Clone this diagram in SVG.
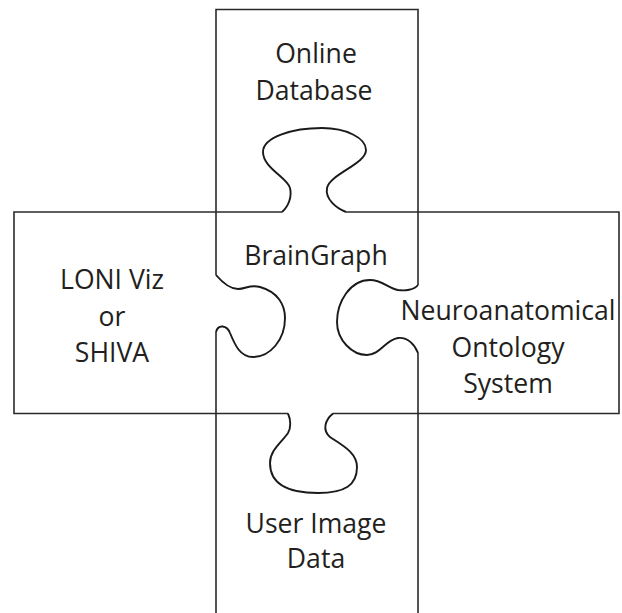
<svg xmlns="http://www.w3.org/2000/svg" width="622" height="613" viewBox="0 0 622 613">
  <style>
    .edge { fill: none; stroke: #2a2a2a; stroke-width: 1.6; }
    .tab { fill: none; stroke: #1a1a1a; stroke-width: 1.9; stroke-linejoin: round; }
    .label { font-family: "Open Sans", "Liberation Sans", sans-serif; font-size: 26.6px; fill: #231f20; text-anchor: middle; }
  </style>
  <rect width="622" height="613" fill="#ffffff"/>
  <g id="connectors"></g>
  <g id="online-database">
    <path class="edge" d="M216,212 V9.5 H418 V212"/>
    <text class="label" x="316" y="63">Online</text>
    <text class="label" x="314" y="100">Database</text>
  </g>
  <g id="loni-viz-shiva">
    <path class="edge" d="M216,212 H14 V413.5 H216"/>
    <text class="label" x="112" y="289">LONI Viz</text>
    <text class="label" x="112" y="326">or</text>
    <text class="label" x="112" y="362">SHIVA</text>
  </g>
  <g id="neuroanatomical-ontology-system">
    <path class="edge" d="M418,212 H619 V413.5 H418"/>
    <text class="label" x="508" y="320">Neuroanatomical</text>
    <text class="label" x="508" y="357">Ontology</text>
    <text class="label" x="508" y="393">System</text>
  </g>
  <g id="user-image-data">
    <path class="edge" d="M216,413.5 V613 M418,413.5 V613"/>
    <text class="label" x="316" y="533">User Image</text>
    <text class="label" x="316" y="568">Data</text>
  </g>
  <g id="braingraph">
    <path class="edge" d="M216,212 H282 M346,212 H418 V285 M418,353 V413.5 H333 M288,413.5 H216 V332 M216,275 V212"/>
    <path class="tab" d="M282,212 C289,206 292,196 290,188 C288,178 263,168 263,152 C263,137 293,128 322,128 C346,128 366,138 366,150 C366,164 330,174 327,188 C325,199 336,208 346,212"/>
    <path class="tab" d="M418,285 C414,290 405,291 398,290 C388,288 382,280 370,280 C350,280 337,302 337,322 C337,340 352,355 367,355 C380,355 385,340 398,338 C408,337 415,345 418,353"/>
    <path class="tab" d="M288,413.5 C291,420 291,428 288,433 C282,442 270,450 270,463 C270,485 290,493 318,493 C345,493 357,485 357,467 C357,452 340,444 330,437 C322,430 325,420 333,413.5"/>
    <path class="tab" d="M216,275 C222,282 230,289 238,289 C246,289 250,284 260,287 C278,292 285,305 285,318 C285,340 270,357 253,357 C240,357 235,345 230,333 C227,325 218,324 216,332"/>
    <text class="label" x="316" y="265">BrainGraph</text>
  </g>
</svg>
